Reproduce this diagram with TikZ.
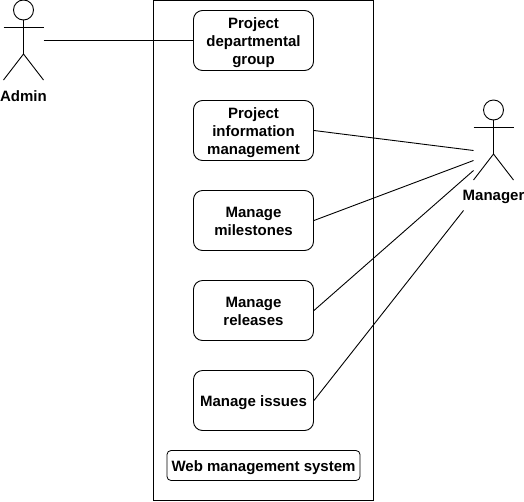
\documentclass[tikz,border=0pt]{standalone}
\usepackage{fontspec}
\setmainfont{Liberation Sans}
\tikzset{
  usecase/.style={draw=black,fill=white,rounded corners=9pt,minimum width=120pt,minimum height=60pt,inner sep=0pt,align=center,font=\bfseries\fontsize{15}{18}\selectfont,line width=0.9pt},
  syslabel/.style={draw=black,fill=white,rounded corners=4pt,minimum width=193pt,minimum height=30pt,inner sep=0pt,font=\bfseries\fontsize{15}{18}\selectfont,line width=0.8pt},
  actorlabel/.style={inner sep=0pt,font=\bfseries\fontsize{15}{18}\selectfont},
  link/.style={draw=black,line width=0.9pt},
  stick/.style={draw=black,line width=0.9pt}
}
\newcommand{\stickman}[2]{%
  \draw[stick] (#1,#2) circle (10pt);
  \draw[stick] (#1,#2+10) -- (#1,#2+44);
  \draw[stick] (#1-20,#2+17) -- (#1+20,#2+17);
  \draw[stick] (#1-20,#2+70) -- (#1,#2+44) -- (#1+20,#2+70);
}
\newcommand{\lowered}[2][2pt]{\raisebox{-#1}[\height][\depth]{#2}}
\begin{document}
\begin{tikzpicture}[x=1pt,y=-1pt]
\useasboundingbox (0,0) rectangle (524,501);
\draw[line width=0.9pt] (153.5,0.5) rectangle (373.5,500);
\stickman{23.5}{10}
\stickman{493.5}{110}
\node[actorlabel] (admin) at (23.5,96.5) {Admin};
\node[actorlabel] (manager) at (493.5,196.5) {Manager};
\coordinate (adminHand) at (43.5,40.5);
\coordinate (mgrA) at (473.5,150.5);
\coordinate (mgrB) at (473.5,160.5);
\coordinate (mgrC) at (473.5,170.5);
\coordinate (mgrD) at (463.5,210.5);
\node[usecase] (u1) at (253.5,40.5) {\lowered{\parbox{118pt}{\centering Project\\departmental\\group}}};
\node[usecase] (u2) at (253.5,130.5) {\lowered{\parbox{118pt}{\centering Project\\information\\management}}};
\node[usecase] (u3) at (253.5,220.5) {\lowered[1pt]{\parbox{118pt}{\centering Manage\\milestones}}};
\node[usecase] (u4) at (253.5,310.5) {\lowered[1pt]{\parbox{118pt}{\centering Manage\\releases}}};
\node[usecase] (u5) at (253.5,400.5) {\lowered{Manage issues}};
\node[syslabel] (sys) at (263.5,465.5) {\lowered{Web management system}};
\draw[link] (adminHand) -- (u1.west);
\draw[link] (u2.east) -- (mgrA);
\draw[link] (u3.east) -- (mgrB);
\draw[link] (u4.east) -- (mgrC);
\draw[link] (u5.east) -- (mgrD);
\end{tikzpicture}
\end{document}
